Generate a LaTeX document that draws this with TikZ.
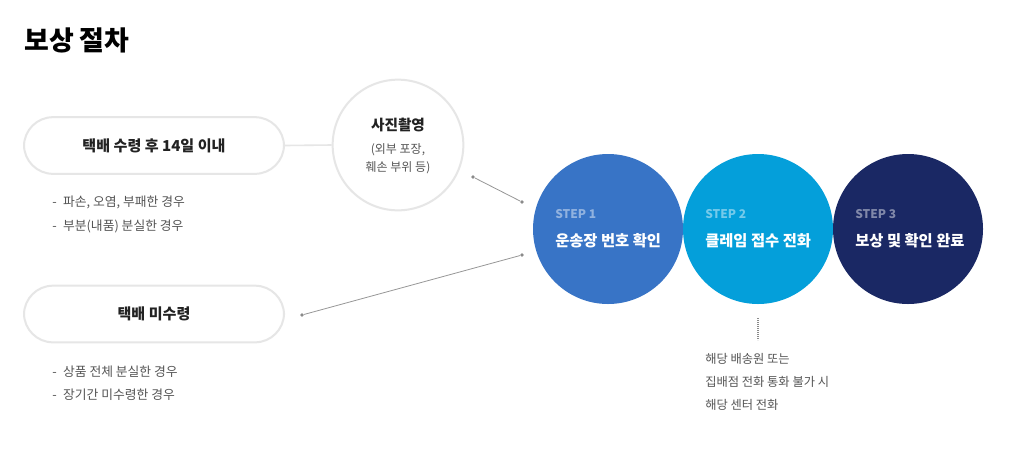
\documentclass[tikz,border=0pt]{standalone}
\usepackage{fontspec}
\setmainfont{Noto Sans CJK KR}
\definecolor{stepA}{HTML}{3874C6}
\definecolor{stepB}{HTML}{049FDA}
\definecolor{stepC}{HTML}{1A2864}
\definecolor{pillline}{HTML}{E6E6E6}
\definecolor{txtdark}{HTML}{222222}
\definecolor{txtgray}{HTML}{555555}
\definecolor{dotgray}{HTML}{8A8A8A}
\newcommand{\fs}[1]{\fontsize{#1}{#1}\selectfont}
\tikzset{
  pill/.style={draw=pillline, line width=1.5pt, rounded corners=21.75pt, minimum width=195pt, minimum height=42.5pt, fill=white, text=txtdark, font=\fs{11.3pt}\bfseries},
  photo/.style={circle, draw=pillline, line width=1.5pt, minimum size=98pt, inner sep=0pt, fill=white},
  stepcircle/.style={circle, minimum size=112.5pt, inner sep=0pt},
  steplabel/.style={anchor=west, text=white, text opacity=0.45, font=\fs{9pt}\bfseries},
  steptext/.style={anchor=west, text=white, font=\fs{11.5pt}\bfseries},
  bullet/.style={anchor=west, text=txtgray, font=\fs{9.6pt}},
  note/.style={anchor=west, text=txtgray, font=\fs{9.2pt}},
  dot/.style={circle, fill=dotgray, inner sep=0pt, minimum size=2.8pt},
  link/.style={draw=dotgray!90, line width=0.6pt},
}
\begin{document}
\begin{tikzpicture}[x=0.75pt,y=-0.75pt]
\useasboundingbox[fill=white] (0,0) rectangle (1009,451);
% title
\node[anchor=west, text=black, font=\fs{20.2pt}\bfseries, inner sep=0pt] (title) at (24,40) {보상 절차};
% pills
\node[pill] (p1) at (154,145.5) {택배 수령 후 14일 이내};
\node[pill] (p2) at (154,314) {택배 미수령};
% photo circle
\node[photo] (ph) at (398,145) {};
\node[text=txtdark, font=\fs{11pt}\bfseries] (phT) at (398,125) {사진촬영};
\node[text=txtgray, font=\fs{9pt}] (phA) at (398,150) {(외부 포장,};
\node[text=txtgray, font=\fs{9pt}] (phB) at (398,168) {훼손 부위 등)};
\draw[draw=pillline, line width=1.2pt] (p1.east) -- (ph.west);
% bullets
\node[bullet, inner sep=0pt] (b1) at (52,202) {-\enspace 파손, 오염, 부패한 경우};
\node[bullet, inner sep=0pt] (b2) at (52,226) {-\enspace 부분(내품) 분실한 경우};
\node[bullet, inner sep=0pt] (b3) at (52,372) {-\enspace 상품 전체 분실한 경우};
\node[bullet, inner sep=0pt] (b4) at (52,395) {-\enspace 장기간 미수령한 경우};
% step circles
\node[stepcircle, fill=stepA] (s1) at (608,229) {};
\node[stepcircle, fill=stepB] (s2) at (758,229) {};
\node[stepcircle, fill=stepC] (s3) at (908,229) {};
\node[steplabel, inner sep=0pt] (l1) at (555,214) {STEP 1};
\node[steplabel, inner sep=0pt] (l2) at (705,214) {STEP 2};
\node[steplabel, inner sep=0pt] (l3) at (855,214) {STEP 3};
\node[steptext, inner sep=0pt] (t1) at (555,241) {운송장 번호 확인};
\node[steptext, inner sep=0pt] (t2) at (705,241) {클레임 접수 전화};
\node[steptext, inner sep=0pt] (t3) at (855,241) {보상 및 확인 완료};
% connectors
\node[dot] (d1) at (473,177) {};
\node[dot] (d2) at (522,202) {};
\node[dot] (d3) at (302,315) {};
\node[dot] (d4) at (522,255) {};
\draw[link] (d1) -- (d2);
\draw[link] (d3) -- (d4);
% dotted line under step 2
\coordinate (v1) at (758,318);
\coordinate (v2) at (758,340);
\draw[dotgray, line width=0.9pt, dash pattern=on 0.6pt off 0.9pt] (v1) -- (v2);
% notes
\node[note, inner sep=0pt] (n1) at (705,359) {해당 배송원 또는};
\node[note, inner sep=0pt] (n2) at (705,382) {집배점 전화 통화 불가 시};
\node[note, inner sep=0pt] (n3) at (705,405) {해당 센터 전화};
\end{tikzpicture}
\end{document}
